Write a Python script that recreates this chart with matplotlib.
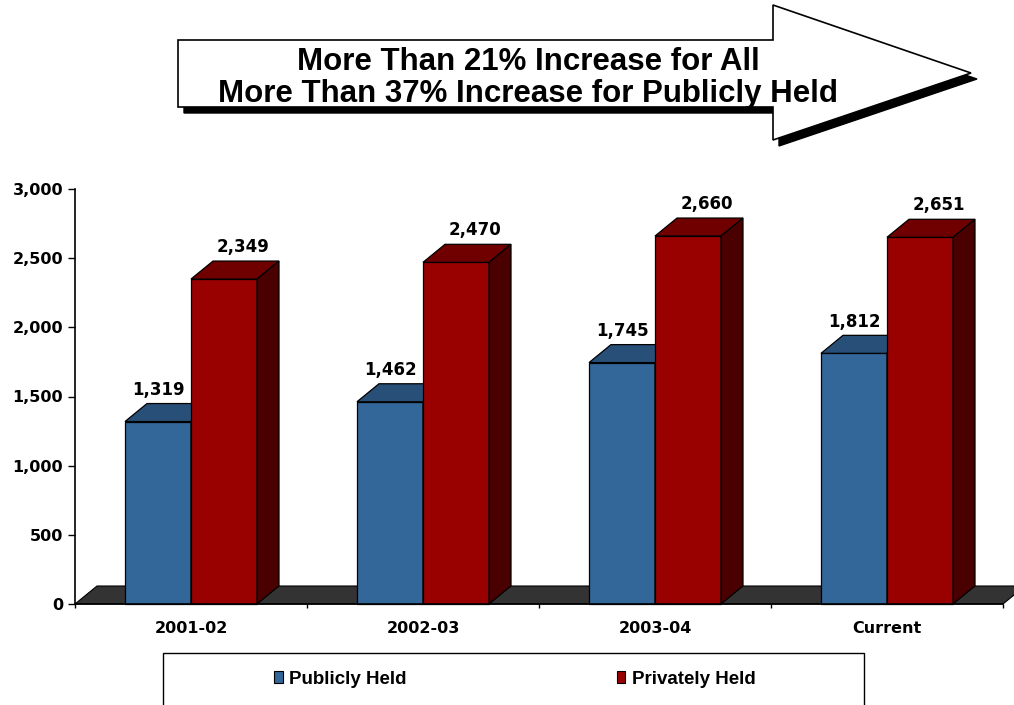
import matplotlib
matplotlib.use("Agg")
import matplotlib.pyplot as plt
from matplotlib.patches import Polygon, Rectangle, Patch
import numpy as np

# data
categories = ["2001-02", "2002-03", "2003-04", "Current"]
publicly_held = [1319, 1462, 1745, 1812]
privately_held = [2349, 2470, 2660, 2651]
series_names = ["Publicly Held", "Privately Held"]
headline = ["More Than 21% Increase for All",
            "More Than 37% Increase for Publicly Held"]

# colors
BLUE_FRONT, BLUE_TOP, BLUE_SIDE = "#336699", "#274f77", "#1d3b5a"
RED_FRONT, RED_TOP, RED_SIDE = "#990000", "#700000", "#4a0000"
FLOOR = "#333333"

W, H = 1014, 705
fig = plt.figure(figsize=(W / 100, H / 100), dpi=100)
fig.patch.set_facecolor("white")

# plot area in pixels: x 75..1003, y 189..604
ax = fig.add_axes([75 / W, (H - 604) / H, 928 / W, 415 / H])
ax.set_xlim(-0.5, len(categories) - 0.5)
ax.set_ylim(0, 3000)

px_per_cat = 928 / len(categories)
px_per_unit = 415 / 3000
dx = 22 / px_per_cat      # depth offset in category units
dy = 18 / px_per_unit     # depth offset in value units
bw = 66 / px_per_cat      # bar width


def bar3d(x0, v, front, top, side):
    x1 = x0 + bw
    ax.add_patch(Polygon([(x0, 0), (x1, 0), (x1, v), (x0, v)], closed=True,
                         facecolor=front, edgecolor="black", lw=0.9, clip_on=False, zorder=3))
    ax.add_patch(Polygon([(x0, v), (x1, v), (x1 + dx, v + dy), (x0 + dx, v + dy)], closed=True,
                         facecolor=top, edgecolor="black", lw=0.9, clip_on=False, zorder=3))
    ax.add_patch(Polygon([(x1, 0), (x1 + dx, dy), (x1 + dx, v + dy), (x1, v)], closed=True,
                         facecolor=side, edgecolor="black", lw=0.9, clip_on=False, zorder=3))


# floor
x_lo, x_hi = -0.5, len(categories) - 0.5
ax.add_patch(Polygon([(x_lo, 0), (x_hi, 0), (x_hi + dx, dy), (x_lo + dx, dy)], closed=True,
                     facecolor=FLOOR, edgecolor="black", lw=0.8, clip_on=False, zorder=2))

xs = np.arange(len(categories))
for i, (p, q) in enumerate(zip(publicly_held, privately_held)):
    bar3d(xs[i] - bw, p, BLUE_FRONT, BLUE_TOP, BLUE_SIDE)
    bar3d(xs[i], q, RED_FRONT, RED_TOP, RED_SIDE)
    ax.text(xs[i] - bw / 2, p + 230, f"{p:,}", ha="center", va="center",
            fontsize=12, fontweight="bold", color="black", zorder=5)
    ax.text(xs[i] + bw / 2 + dx * 0.85, q + 230, f"{q:,}", ha="center", va="center",
            fontsize=12, fontweight="bold", color="black", zorder=5)

# axes styling
for s in ["top", "right"]:
    ax.spines[s].set_visible(False)
ax.spines["left"].set_linewidth(1.2)
ax.spines["bottom"].set_linewidth(1.2)
ax.spines["left"].set_zorder(6)
ax.spines["bottom"].set_zorder(6)
ax.set_yticks(np.arange(0, 3001, 500))
ax.set_yticklabels([f"{v:,}" for v in range(0, 3001, 500)])
ax.tick_params(axis="y", direction="out", length=5, width=1, labelsize=11.5)
for t in ax.get_yticklabels():
    t.set_fontweight("bold")

ax.set_xticks(np.arange(len(categories) + 1) - 0.5)
ax.set_xticklabels([])
ax.tick_params(axis="x", which="major", direction="out", length=3, width=1)
ax.set_xticks(xs, minor=True)
ax.set_xticklabels(categories, minor=True, fontsize=11.5, fontweight="bold")
ax.tick_params(axis="x", which="minor", length=0, pad=12)
ax.patch.set_visible(False)

# overlay in pixel coords for the headline arrow and legend frame
ov = fig.add_axes([0, 0, 1, 1], zorder=-1)
ov.set_xlim(0, W)
ov.set_ylim(H, 0)
ov.axis("off")

arrow_pts = [(178, 40), (773, 40), (773, 5), (971, 73), (773, 140), (773, 107), (178, 107)]
shadow = [(x + 6, y + 6) for x, y in arrow_pts]
ov.add_patch(Polygon(shadow, closed=True, facecolor="black", edgecolor="black", lw=1))
ov.add_patch(Polygon(arrow_pts, closed=True, facecolor="white", edgecolor="black", lw=1.2))
ov.text(528, 62, headline[0], ha="center", va="center", fontsize=22.5,
        fontweight="bold", family="Liberation Sans")
ov.text(528, 94, headline[1], ha="center", va="center", fontsize=22.5,
        fontweight="bold", family="Liberation Sans")

# legend frame (runs off the bottom edge)
ov.add_patch(Rectangle((163, 653), 701, 60, facecolor="white", edgecolor="black", lw=1))

handles = [Patch(facecolor=BLUE_FRONT, edgecolor="black", lw=0.8),
           Patch(facecolor=RED_FRONT, edgecolor="black", lw=0.8)]
leg = fig.legend(handles, series_names, loc="center", bbox_to_anchor=(515 / W, 1 - 679 / H),
                 ncol=2, frameon=False, columnspacing=11.2, handlelength=0.45,
                 handleheight=0.65, handletextpad=0.35,
                 prop={"family": "Liberation Sans", "weight": "bold", "size": 13.5})

fig.savefig("out.png", dpi=100, facecolor="white")
